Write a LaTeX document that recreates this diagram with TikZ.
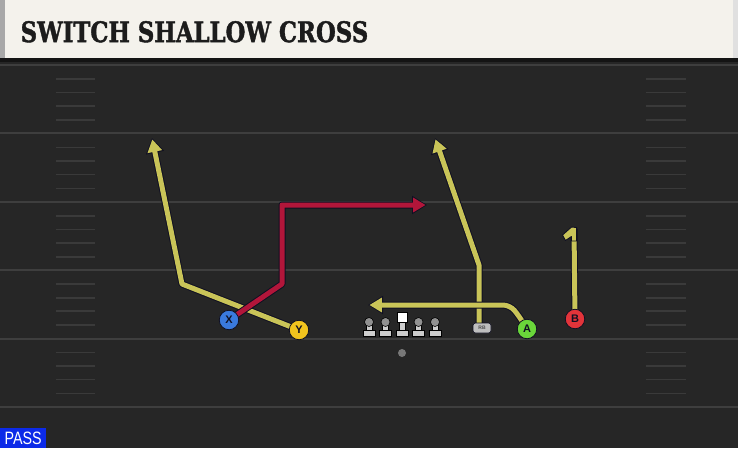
\documentclass[tikz,border=0pt]{standalone}
\usepackage{fontspec}
\usepackage{graphicx}
\usetikzlibrary{arrows.meta}
\setmainfont{Liberation Sans}
\newfontfamily\titlefont{DejaVu Serif}[BoldFeatures={FakeBold=1.6}]
\definecolor{fieldc}{RGB}{38,38,38}
\definecolor{yardc}{RGB}{62,62,62}
\definecolor{hashc}{RGB}{58,58,58}
\definecolor{headerc}{RGB}{244,242,236}
\definecolor{stripc}{RGB}{168,168,168}
\definecolor{titlec}{RGB}{28,28,28}
\definecolor{ylw}{RGB}{201,196,88}
\definecolor{redr}{RGB}{178,22,58}
\definecolor{outl}{RGB}{16,16,34}
\definecolor{passc}{RGB}{12,42,232}
\definecolor{xblue}{RGB}{58,122,222}
\definecolor{yyel}{RGB}{242,196,30}
\definecolor{agrn}{RGB}{106,214,58}
\definecolor{bred}{RGB}{226,52,58}
\definecolor{lmbody}{RGB}{205,205,205}
\definecolor{lmhead}{RGB}{145,145,145}
\definecolor{ballc}{RGB}{120,120,120}
\definecolor{rbc}{RGB}{190,190,190}
\pgfdeclarelayer{field}
\pgfdeclarelayer{routes}
\pgfsetlayers{field,routes,main}
\tikzset{
  yard/.style={draw=yardc, line width=2pt},
  hashm/.style={draw=hashc, line width=1.6pt},
  routeout/.style={draw=outl, line width=7pt, line join=round, -{Triangle[length=15pt,width=17.5pt]}},
  routeoutn/.style={draw=outl, line width=7pt, line join=round},
  yroute/.style={draw=ylw, line width=5pt, line join=round, shorten >=1.4pt, -{Triangle[length=12.5pt,width=14pt]}},
  rroute/.style={draw=redr, line width=5pt, line join=round, shorten >=1.4pt, -{Triangle[length=12.5pt,width=14pt]}},
  yroutenoarrow/.style={draw=ylw, line width=5pt, line join=round},
  player/.style={circle, draw=outl, line width=0.8pt, minimum size=19.5pt, inner sep=0pt,
    font=\bfseries\fontsize{11}{11}\selectfont, text=outl},
  rbbox/.style={rounded corners=2.5pt, draw=outl, line width=0.6pt, fill=rbc, minimum width=18pt,
    minimum height=10pt, inner sep=0pt, font=\bfseries\fontsize{5}{5}\selectfont, text=black!70},
  lineman/.pic={
    \filldraw[draw=black, line width=0.6pt, fill=lmbody] (-6.2,0) rectangle (6.2,-5.5);
    \filldraw[draw=black, line width=0.6pt, fill=lmbody] (-2.8,-5.5) rectangle (2.8,-13);
    \filldraw[draw=black, line width=0.6pt, fill=lmhead] (0,-14) circle (4.5pt);
  },
  centerman/.pic={
    \filldraw[draw=black, line width=0.6pt, fill=lmbody] (-6.2,0) rectangle (6.2,-5.5);
    \filldraw[draw=black, line width=0.6pt, fill=lmbody] (-2.8,-5.5) rectangle (2.8,-14);
    \filldraw[draw=black, line width=0.6pt, fill=white] (-4.8,-14) rectangle (4.8,-23.5);
  }
}
\newcommand\drawroute[3]{\draw[#1] #3; \draw[#2] #3;}
\begin{document}
\begin{tikzpicture}[x=1pt,y=-1pt]
\useasboundingbox (0,0) rectangle (738,448);
\begin{pgfonlayer}{field}
  \fill[fieldc] (0,0) rectangle (738,448);
  \foreach \k in {0,...,5} {
    \draw[yard] (0,65+68.4*\k) -- (738,65+68.4*\k);
  }
  \foreach \k in {0,...,4} {
    \foreach \d in {14,27.5,41,55} {
      \draw[hashm] (56,65+68.4*\k+\d) -- (95,65+68.4*\k+\d);
      \draw[hashm] (646,65+68.4*\k+\d) -- (686,65+68.4*\k+\d);
    }
  }
  \fill[black!92] (0,57) rectangle (738,62);
  \fill[headerc] (0,0) rectangle (738,58);
  \fill[stripc] (0,0) rectangle (5,58);
  \fill[black!12] (733,0) rectangle (738,58);
\end{pgfonlayer}

\node[anchor=south west, inner sep=0pt, text=titlec] (title) at (20.5,42.7)
  {\resizebox{347.5pt}{21pt}{\titlefont\bfseries SWITCH SHALLOW CROSS}};

\node[fill=passc, text=white, inner sep=0pt, minimum width=46pt, minimum height=20pt, anchor=north west] (pass) at (0,428)
  {\resizebox{37pt}{12.5pt}{PASS}};

% players
\node[player, fill=xblue] (X) at (229,320) {X};
\node[player, fill=yyel] (Y) at (299,330) {Y};
\node[player, fill=agrn] (A) at (527,329) {A};
\node[player, fill=bred] (B) at (575,319) {B};
\node[rbbox] (RB) at (482,328) {RB};

% offensive line
\pic at (369,336) {lineman};
\pic at (385.5,336) {lineman};
\pic at (402,336) {centerman};
\pic at (418.5,336) {lineman};
\pic at (435,336) {lineman};
\node[circle, fill=ballc, minimum size=8pt, inner sep=0pt] (ball) at (402,353) {};

% route points
\coordinate (yc) at (182,284);
\coordinate (yt) at (152,138);
\coordinate (xc1) at (282,284);
\coordinate (xc2) at (282,205);
\coordinate (xt) at (427,205);
\coordinate (rbc1) at (479,265);
\coordinate (rbt) at (435,138);
\coordinate (ac1) at (519,316);
\coordinate (ac2) at (510,305);
\coordinate (at) at (368,305);
\coordinate (bt) at (574,229);

\begin{pgfonlayer}{routes}
  \drawroute{routeout}{yroute}{(Y.center) -- (yc) -- (yt)}
  \drawroute{routeout}{rroute}{(X.center) -- (xc1) -- (xc2) -- (xt)}
  \drawroute{routeout}{yroute}{([xshift=-3pt]RB.center) -- (479,318) -- (rbc1) -- (rbt)}
  \drawroute{routeout,rounded corners=7pt}{yroute,rounded corners=7pt}{(A.center) -- (ac1) -- (ac2) -- (at)}
  \drawroute{routeoutn}{yroutenoarrow}{(B.center) -- (bt)}
  \filldraw[fill=ylw, draw=outl, line width=0.9pt, line join=round]
    (576.6,227.5) -- (571.5,227) -- (562.5,235) -- (565.5,240.5) -- (571.4,236.5) -- (571.4,241) -- (576.6,241) -- cycle;
\end{pgfonlayer}
\end{tikzpicture}
\end{document}
